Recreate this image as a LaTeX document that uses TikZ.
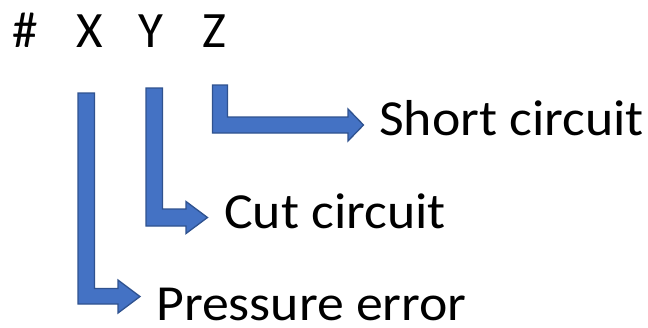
\documentclass[tikz,border=0pt]{standalone}
\usepackage{fontspec}
\setmainfont{Carlito}
\newfontfamily\lblfont{Carlito}[FakeStretch=1.065]
\begin{document}
\begin{tikzpicture}[x=1pt,y=-1pt,
  bent/.style={fill=arrowfill,draw=arrowline,line width=1.3pt,line join=miter},
  lbl/.style={inner sep=0pt,anchor=base west,font=\lblfont\fontsize{50.5}{60}\selectfont},
  hdr/.style={inner sep=0pt,anchor=base,font=\fontsize{51}{60}\selectfont}]
\definecolor{arrowfill}{HTML}{4472C4}
\definecolor{arrowline}{HTML}{2F528F}
\useasboundingbox (0,0) rectangle (648,327);
% header
\node[hdr] (hash) at (25.5,47) {\#};
\node[hdr] (X) at (89.5,47) {X};
\node[hdr] (Y) at (151,47) {Y};
\node[hdr] (Z) at (214.5,47) {Z};
% labels
\node[lbl] (short) at (379,135) {Short circuit};
\node[lbl] (cut) at (224,228.5) {Cut circuit};
\node[lbl] (press) at (156,320) {Pressure error};
% arrows
\draw[bent] (78,93) -- (94.5,93) -- (94.5,288.5) -- (118,288.5) -- (118,280) -- (140,296.5)
  -- (118,313) -- (118,304) -- (78,304) -- cycle;
\draw[bent] (146,88) -- (162.5,88) -- (162.5,209) -- (186,209) -- (186,201.5) -- (207.5,217.5)
  -- (186,233.5) -- (186,226) -- (146,226) -- cycle;
\draw[bent] (212.5,85) -- (227.5,85) -- (227.5,117) -- (348,117) -- (348,109) -- (363.5,125)
  -- (348,141) -- (348,133) -- (212.5,133) -- cycle;
\end{tikzpicture}
\end{document}
